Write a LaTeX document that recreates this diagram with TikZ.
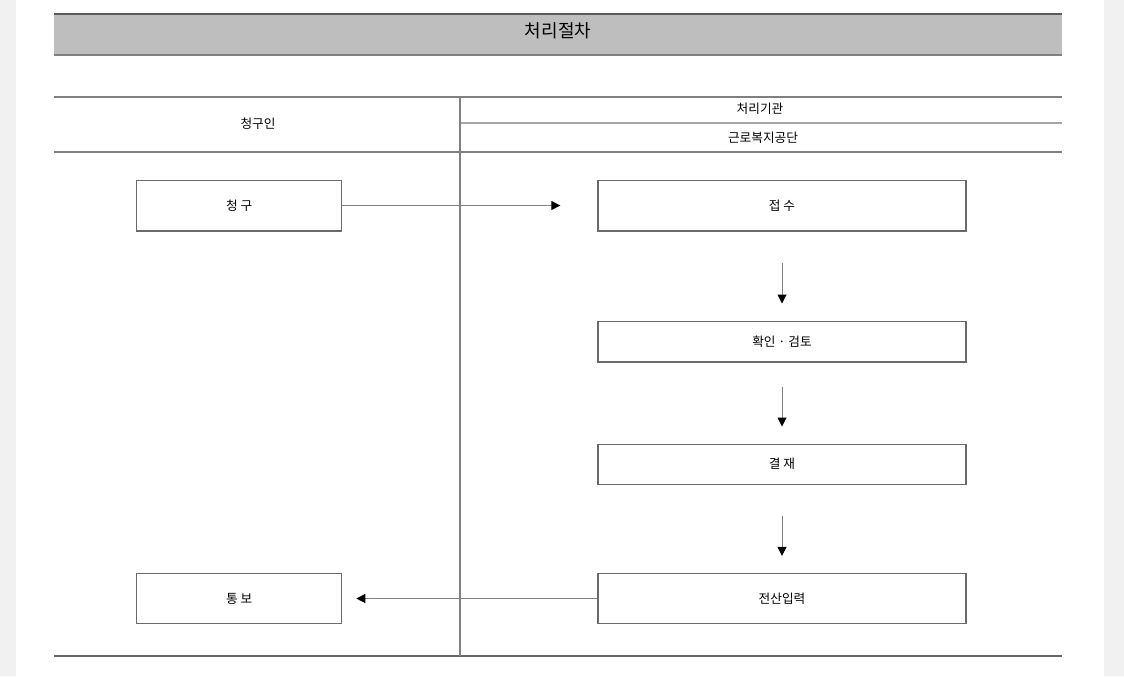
\documentclass[tikz,border=0pt]{standalone}
\usepackage{fontspec}
\setmainfont{Noto Sans CJK KR}
\usetikzlibrary{positioning, arrows.meta}
\definecolor{bandgray}{HTML}{BEBEBE}
\definecolor{sidegray}{HTML}{F1F1F1}
\definecolor{rulegray}{HTML}{808080}
\definecolor{boxline}{HTML}{6A6A6A}
\tikzset{
    box/.style={draw=boxline, line width=1pt, minimum height=38pt, inner sep=0pt, font=\fontsize{9.5}{11}\selectfont},
    narrow/.style={box, minimum width=153.75pt},
    wide/.style={box, minimum width=276pt},
    flow/.style={color=rulegray, line width=0.75pt,
        -{Triangle[length=0.1pt, width=0.1pt, sep=3pt, color=white, fill=white] Triangle[length=6.75pt, width=6.75pt, color=black, fill=black]}},
    head/.style={font=\fontsize{9.5}{11}\selectfont}
}

\begin{document}
\begin{tikzpicture}[x=0.75pt, y=-0.75pt]
    \useasboundingbox (0,0) rectangle (1124,676);
    \fill[sidegray] (0,0) rectangle (16,676);
    \fill[sidegray] (1104,0) rectangle (1124,676);
    % title band
    \fill[bandgray] (54,14) rectangle (1062,55);
    \draw[gray!70!black, line width=2.2pt] (54,14) -- (1062,14);
    \draw[gray, line width=1.5pt] (54,55) -- (1062,55);
    \node (title) at (558,31) {\fontsize{13.5}{15}\selectfont 처리절차};
    % table frame
    \draw[rulegray, line width=1.5pt] (54,97) -- (1062,97);
    \draw[rulegray!70, line width=1.5pt] (460,123) -- (1062,123);
    \draw[rulegray, line width=1.5pt] (54,152) -- (1062,152);
    \draw[gray!80!black, line width=1.8pt] (54,656) -- (1062,656);
    \draw[rulegray, line width=0.8pt] (460,97) -- (460,656);
    \node[head] (who)    at (258,124) {청구인};
    \node[head] (org)    at (760,109) {처리기관};
    \node[head] (agency) at (763,138) {근로복지공단};

    \node[wide]                          (rcv) at (782,205.5)         {접 수};
    \node[narrow]                        (req) [left=191.25pt of rcv] {청 구};
    \node[wide, minimum height=30.5pt]   (chk) [below=66.75pt of rcv] {확인 · 검토};
    \node[wide, minimum height=30pt]     (apv) [below=60.75pt of chk] {결 재};
    \node[wide, minimum height=37.5pt]   (inp) [below=66pt of apv]    {전산입력};
    \node[narrow, minimum height=37.5pt] (ntf) [left=191.25pt of inp] {통 보};

    \path[flow] (req) edge[shorten >=27.75pt] (rcv)
                (rcv) edge[shorten <=23.25pt, shorten >=12.75pt] (chk)
                (chk) edge[shorten <=18pt, shorten >=12.75pt] (apv)
                (apv) edge[shorten <=23.25pt, shorten >=12.75pt] (inp)
                (inp) edge[shorten >=10.5pt] (ntf);
\end{tikzpicture}
\end{document}
